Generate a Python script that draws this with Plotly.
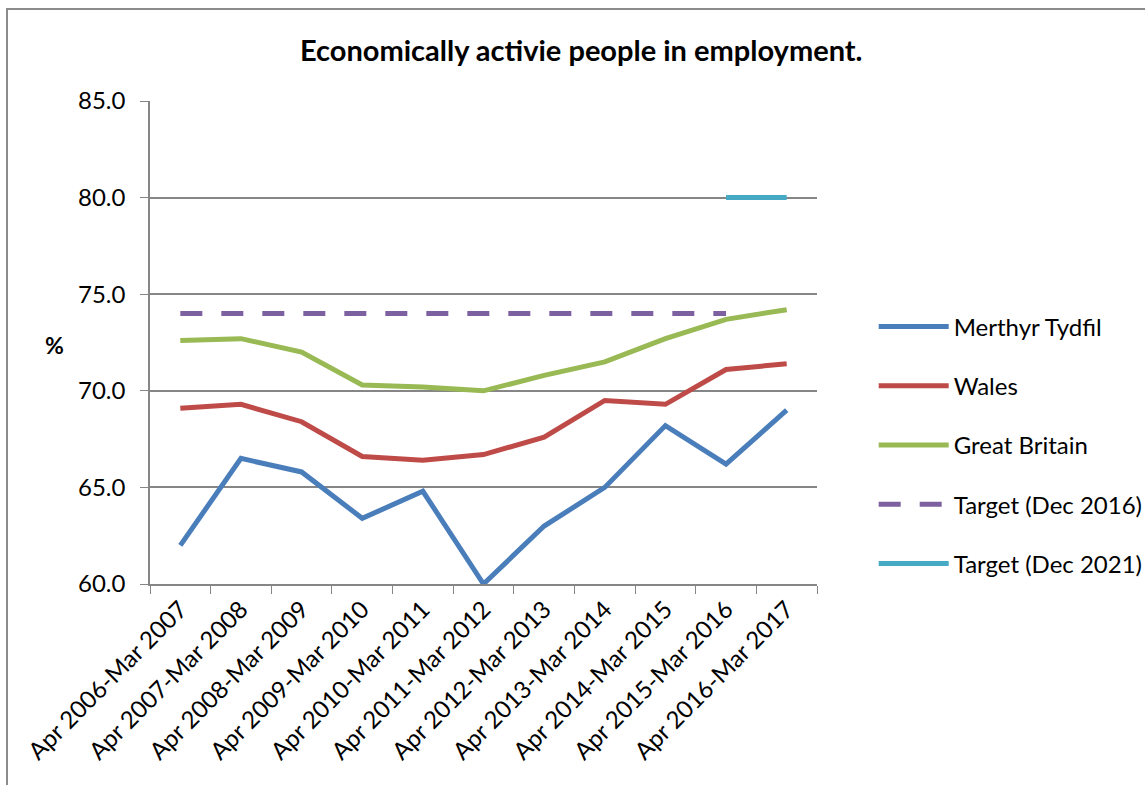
import plotly.graph_objects as go

categories = ["Apr 2006-Mar 2007", "Apr 2007-Mar 2008", "Apr 2008-Mar 2009", "Apr 2009-Mar 2010",
              "Apr 2010-Mar 2011", "Apr 2011-Mar 2012", "Apr 2012-Mar 2013", "Apr 2013-Mar 2014",
              "Apr 2014-Mar 2015", "Apr 2015-Mar 2016", "Apr 2016-Mar 2017"]
merthyr = [62.0, 66.5, 65.8, 63.4, 64.8, 60.0, 63.0, 65.0, 68.2, 66.2, 69.0]
wales = [69.1, 69.3, 68.4, 66.6, 66.4, 66.7, 67.6, 69.5, 69.3, 71.1, 71.4]
gb = [72.6, 72.7, 72.0, 70.3, 70.2, 70.0, 70.8, 71.5, 72.7, 73.7, 74.2]
target2016 = [74.0] * 10 + [None]
target2021 = [None] * 9 + [80.0, 80.0]
y_ticks = [60, 65, 70, 75, 80, 85]

FONT = "Lato"
series = [
    ("Merthyr Tydfil", merthyr, "#4A7EBB", "solid"),
    ("Wales", wales, "#BE4B48", "solid"),
    ("Great Britain", gb, "#98B954", "solid"),
    ("Target (Dec 2016)", target2016, "#7D60A0", "22px,19px"),
    ("Target (Dec 2021)", target2021, "#46AAC5", "solid"),
]

fig = go.Figure()
for i, (name, vals, col, dash) in enumerate(series):
    fig.add_trace(go.Scatter(x=categories, y=vals, name=name, mode="lines",
                             line=dict(color=col, width=5, dash=dash),
                             legendgroup=f"g{i}", cliponaxis=True))

fig.update_layout(
    width=1145, height=785,
    margin=dict(l=150, r=328, t=101, b=201, autoexpand=False),
    paper_bgcolor="white", plot_bgcolor="white",
    font=dict(family=FONT, size=24, color="black"),
    showlegend=True,
    legend=dict(x=1.085, y=(584 - 445) / 483, xanchor="left", yanchor="middle",
                font=dict(family=FONT, size=24), tracegroupgap=25,
                itemwidth=70, bgcolor="rgba(0,0,0,0)"),
    xaxis=dict(type="category", range=[-0.5, 10.5], showgrid=False,
               showline=True, linecolor="#868686", linewidth=1.5,
               ticks="outside", tickson="boundaries", ticklen=8, tickcolor="#868686",
               tickangle=-45, tickfont=dict(family=FONT, size=24)),
    yaxis=dict(range=[60, 85], tickvals=y_ticks, tickformat=".1f",
               showgrid=True, gridcolor="#868686", gridwidth=1.5,
               showline=True, linecolor="#868686", linewidth=1.5,
               ticks="outside", ticklen=8, tickcolor="#868686", ticklabelstandoff=10,
               tickfont=dict(family=FONT, size=24), zeroline=False),
    annotations=[
        dict(text="<b>Economically activie people in employment.</b>", xref="paper", yref="paper",
             x=(581 - 150) / 667, y=1.0 + (101 - 49) / 483, xanchor="center", yanchor="middle",
             showarrow=False, font=dict(family=FONT, size=29)),
        dict(text="<b>%</b>", xref="paper", yref="paper",
             x=(54 - 150) / 667, y=(584 - 345) / 483, xanchor="center", yanchor="middle",
             showarrow=False, font=dict(family=FONT, size=23)),
    ],
    shapes=[
        dict(type="rect", xref="paper", yref="paper",
             x0=(7 - 150) / 667, x1=(1170 - 150) / 667,
             y0=(584 - 800) / 483, y1=1.0 + (101 - 9) / 483,
             line=dict(color="#8C8C8C", width=2), fillcolor="rgba(0,0,0,0)", layer="below"),
    ],
)

fig.write_html("out.html", config={"displayModeBar": False},
               post_script="document.body.style.margin='0';document.body.style.overflow='hidden';")
